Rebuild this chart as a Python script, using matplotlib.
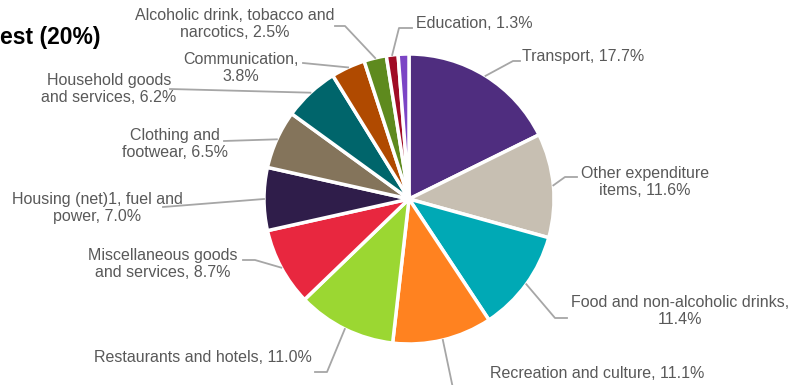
import matplotlib.pyplot as plt
import numpy as np

W, H = 791, 385

CATEGORIES = [
    "Transport", "Other expenditure items", "Food and non-alcoholic drinks",
    "Recreation and culture", "Restaurants and hotels", "Miscellaneous goods and services",
    "Housing (net)1, fuel and power", "Clothing and footwear", "Household goods and services",
    "Communication", "Alcoholic drink, tobacco and narcotics", "Education", "Health",
]
VALUES = [17.7, 11.6, 11.4, 11.1, 11.0, 8.7, 7.0, 6.5, 6.2, 3.8, 2.5, 1.3, 1.2]
COLORS = [
    "#4f2d7f", "#c7bfb2", "#00a9b5", "#ff8220", "#9bd732", "#e8273f",
    "#2f1d4a", "#84745b", "#00656b", "#b04a00", "#5e8a1e", "#a00c25", "#7b45c5",
]
LABELS = [
    "Transport, 17.7%", "Other expenditure\nitems, 11.6%", "Food and non-alcoholic drinks,\n11.4%",
    "Recreation and culture, 11.1%", "Restaurants and hotels, 11.0%",
    "Miscellaneous goods\nand services, 8.7%", "Housing (net)1, fuel and\npower, 7.0%",
    "Clothing and\nfootwear, 6.5%", "Household goods\nand services, 6.2%", "Communication,\n3.8%",
    "Alcoholic drink, tobacco and\nnarcotics, 2.5%", "Education, 1.3%", None,
]

# label layout in pixels from the top-left: text anchor, alignment, leader path after the wedge edge
LAYOUT = [
    ((522, 56), "left", [(513, 61), (520, 61)]),
    ((645, 182), "center", [(565, 177), (577, 177)]),
    ((680, 311), "center", [(555, 318), (567, 318)]),
    ((490, 373), "left", [(455, 398)]),
    ((312, 357), "right", [(327, 372), (315, 372)]),
    ((163, 264), "center", [(255, 260), (243, 260)]),
    ((97, 208), "center", [(163, 207)]),
    ((175, 144), "center", [(224, 141)]),
    ((109, 89), "center", [(170, 89)]),
    ((241, 68), "center", [(303, 63)]),
    ((235, 24), "center", [(345, 26), (335, 26)]),
    ((416, 23), "left", [(399, 28), (412, 28)]),
    None,
]

CENTER = (409, H - 199)
RADIUS = 145

plt.rcParams["font.family"] = ["Liberation Sans", "DejaVu Sans"]

fig = plt.figure(figsize=(W / 100, H / 100), dpi=100)
ax = fig.add_axes([0, 0, 1, 1])

wedges, _ = ax.pie(
    VALUES, colors=COLORS, startangle=90, counterclock=False,
    center=CENTER, radius=RADIUS,
    wedgeprops=dict(edgecolor="white", linewidth=2.5),
)
ax.set_xlim(0, W)
ax.set_ylim(0, H)
ax.set_aspect("equal")
ax.axis("off")

for w, lab, lay in zip(wedges, LABELS, LAYOUT):
    if lab is None:
        continue
    mid = np.deg2rad((w.theta1 + w.theta2) / 2)
    sx = CENTER[0] + RADIUS * np.cos(mid)
    sy = CENTER[1] + RADIUS * np.sin(mid)
    (tx, ty), ha, path = lay
    xs = [sx] + [p[0] for p in path]
    ys = [sy] + [H - p[1] for p in path]
    ax.plot(xs, ys, color="#a6a6a6", lw=1.3, clip_on=False, zorder=1)
    ax.text(tx, H - ty, lab, ha=ha, va="center", fontsize=11.5,
            color="#595959", linespacing=1.2, multialignment="center")

ax.text(0, H - 44, "est (20%)", ha="left", va="baseline", fontsize=16.5,
        fontweight="bold", color="black")

fig.savefig("out.png", dpi=100)
